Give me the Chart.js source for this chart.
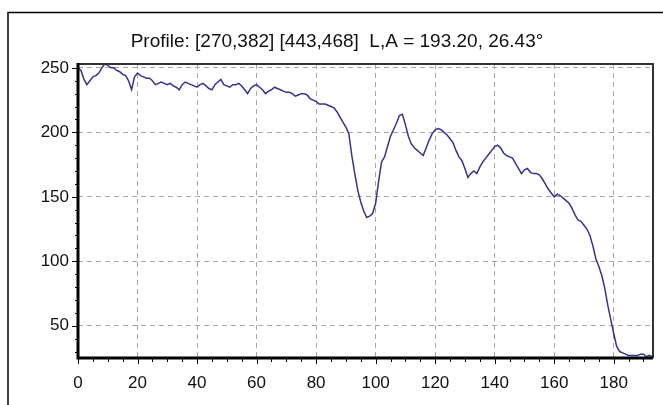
<!DOCTYPE html>
<html>
<head>
<script src="https://cdn.jsdelivr.net/npm/chart.js@4.4.0/dist/chart.umd.min.js"></script>
<style>
    html, body { margin: 0; padding: 0; background: #fff; }
    #wrap { position: relative; width: 663px; height: 405px; }
</style>
</head>
<body>
<div id="wrap"><canvas id="profileChart" width="663" height="405"></canvas></div>
<script>
// profile samples, one per unit along the line
const distance = [
    0,1,2,3,4,5,6,7,8,9,10,11,12,13,14,15,16,17,18,19,
    20,21,22,23,24,25,26,27,28,29,30,31,32,33,34,35,36,37,38,39,
    40,41,42,43,44,45,46,47,48,49,50,51,52,53,54,55,56,57,58,59,
    60,61,62,63,64,65,66,67,68,69,70,71,72,73,74,75,76,77,78,79,
    80,81,82,83,84,85,86,87,88,89,90,91,92,93,94,95,96,97,98,99,
    100,101,102,103,104,105,106,107,108,109,110,111,112,113,114,115,116,117,118,119,
    120,121,122,123,124,125,126,127,128,129,130,131,132,133,134,135,136,137,138,139,
    140,141,142,143,144,145,146,147,148,149,150,151,152,153,154,155,156,157,158,159,
    160,161,162,163,164,165,166,167,168,169,170,171,172,173,174,175,176,177,178,179,
    180,181,182,183,184,185,186,187,188,189,190,191,192,193
];
const intensity = [
    250,248,241,237,240,243,244,246,250,253,252,250,250,248,247,245,244,240,233,243,
    246,244,243,242,242,240,237,238,239,238,237,238,236,235,233,237,239,238,237,236,
    235,237,238,236,234,233,237,239,241,237,236,235,237,237,238,236,233,230,234,236,
    237,235,233,230,232,233,235,234,233,232,231,231,230,228,229,230,230,229,226,225,
    224,222,222,222,221,220,219,216,212,208,204,199,182,168,155,146,139,134,135,137,
    145,162,177,181,189,197,202,207,213,214,206,197,191,188,186,184,182,188,194,199,
    202,203,202,200,198,195,192,186,181,178,172,165,168,170,168,173,177,180,183,186,
    189,190,188,184,182,181,180,176,172,168,171,172,169,168,168,167,164,160,156,153,
    150,152,151,149,147,145,141,136,132,131,128,125,120,112,102,96,89,79,66,55,
    44,34,30,29,28,27,27,27,27,28,28,26,27,26
];
const xTicks = [0, 20, 40, 60, 80, 100, 120, 140, 160, 180];
const yTicks = [50, 100, 150, 200, 250];
const titleText = "Profile: [270,382] [443,468]  L,A = 193.20, 26.43\u00b0";

const points = distance.map((d, i) => ({ x: d, y: intensity[i] }));
const FONT = 'Liberation Sans, Arial, sans-serif';

// outer frame, title, axes and minor ticks
const framePlugin = {
    id: 'frame',
    beforeDraw(chart) {
        const ctx = chart.ctx;
        ctx.save();
        ctx.strokeStyle = '#000';
        ctx.lineWidth = 1.5;
        ctx.beginPath();
        ctx.moveTo(8, 405);
        ctx.lineTo(8, 12.5);
        ctx.lineTo(663, 12.5);
        ctx.stroke();
        ctx.fillStyle = '#111';
        ctx.font = '19px ' + FONT;
        ctx.textAlign = 'center';
        ctx.textBaseline = 'middle';
        ctx.fillText(titleText, 337, 42);
        ctx.restore();
    },
    afterDraw(chart) {
        const ctx = chart.ctx;
        const a = chart.chartArea;
        const xs = chart.scales.x, ys = chart.scales.y;
        ctx.save();
        ctx.strokeStyle = '#000';
        ctx.lineWidth = 1;
        ctx.beginPath();
        for (let v = 30; v <= 250; v += 10) {
            const y = Math.round(ys.getPixelForValue(v)) + 0.5;
            const len = v % 50 === 0 ? 6 : 3;
            ctx.moveTo(a.left - len, y);
            ctx.lineTo(a.left, y);
        }
        for (let v = 0; v <= 190; v += 5) {
            const x = Math.round(xs.getPixelForValue(v)) + 0.5;
            const len = v % 20 === 0 ? 6 : 4;
            ctx.moveTo(x, a.bottom);
            ctx.lineTo(x, a.bottom + len);
        }
        ctx.stroke();
        ctx.strokeStyle = '#333';
        ctx.lineWidth = 2;
        ctx.beginPath();
        ctx.moveTo(a.left, a.top);
        ctx.lineTo(a.right, a.top);
        ctx.lineTo(a.right, a.bottom);
        ctx.stroke();
        ctx.strokeStyle = '#000';
        ctx.lineWidth = 3;
        ctx.beginPath();
        ctx.moveTo(a.left, a.top - 1);
        ctx.lineTo(a.left, a.bottom);
        ctx.lineTo(a.right, a.bottom);
        ctx.stroke();
        ctx.restore();
    }
};

new Chart(document.getElementById('profileChart'), {
    type: 'line',
    data: {
        datasets: [{
            data: points,
            borderColor: 'rgb(52,52,145)',
            borderWidth: 1.5,
            pointRadius: 0,
            tension: 0,
            fill: false
        }]
    },
    options: {
        responsive: false,
        animation: false,
        layout: { padding: { left: 0, right: 10, top: 64, bottom: 0 } },
        plugins: {
            legend: { display: false },
            tooltip: { enabled: false },
            title: { display: false }
        },
        scales: {
            x: {
                type: 'linear',
                min: 0,
                max: 193.2,
                afterBuildTicks: (s) => { s.ticks = xTicks.map(v => ({ value: v })); },
                afterFit: (s) => { s.height = 47; },
                grid: {
                    drawTicks: false,
                    color: (c) => (c.tick && c.tick.value === 0) ? 'rgba(0,0,0,0)' : '#a8a8a8',
                    lineWidth: 1
                },
                border: { display: false, dash: [5, 4] },
                ticks: {
                    padding: 15,
                    color: '#111',
                    maxRotation: 0,
                    font: { family: FONT, size: 17 }
                }
            },
            y: {
                type: 'linear',
                min: 25,
                max: 253,
                afterBuildTicks: (s) => { s.ticks = yTicks.map(v => ({ value: v })); },
                afterFit: (s) => { s.width = 78; },
                grid: { drawTicks: false, color: '#a8a8a8', lineWidth: 1 },
                border: { display: false, dash: [5, 4] },
                ticks: {
                    padding: 9,
                    color: '#111',
                    font: { family: FONT, size: 17 }
                }
            }
        }
    },
    plugins: [framePlugin]
});
</script>
</body>
</html>
